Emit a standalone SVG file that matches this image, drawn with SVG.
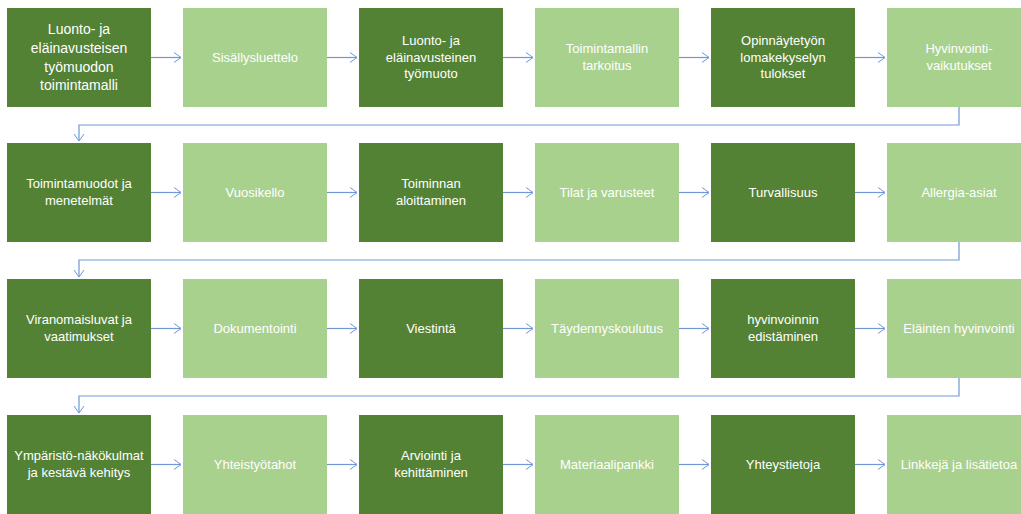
<svg xmlns="http://www.w3.org/2000/svg" width="1021" height="514" viewBox="0 0 1021 514">
<style>
.dk{fill:#548235}
.lt{fill:#A9D18E}
.t{font-family:"Liberation Sans",Arial,sans-serif;font-size:13px;fill:#ffffff;text-anchor:middle}
.t1{font-size:14px}
.c{fill:none;stroke:#7097D6;stroke-width:1.2}
</style>
<defs>
<marker id="ah" markerWidth="10" markerHeight="12" refX="8" refY="6" orient="auto" markerUnits="userSpaceOnUse">
<path d="M1,1 L8,6 L1,11" fill="none" stroke="#7097D6" stroke-width="1"/>
</marker>
</defs>
<rect width="1021" height="514" fill="#ffffff"/>
<g id="connectors">
<path class="c" d="M151,57.5 H181" marker-end="url(#ah)"/>
<path class="c" d="M327,57.5 H357" marker-end="url(#ah)"/>
<path class="c" d="M503,57.5 H533" marker-end="url(#ah)"/>
<path class="c" d="M679,57.5 H709" marker-end="url(#ah)"/>
<path class="c" d="M855,57.5 H885" marker-end="url(#ah)"/>
<path class="c" d="M959,107 V125 H79 V141" marker-end="url(#ah)"/>
<path class="c" d="M151,192.5 H181" marker-end="url(#ah)"/>
<path class="c" d="M327,192.5 H357" marker-end="url(#ah)"/>
<path class="c" d="M503,192.5 H533" marker-end="url(#ah)"/>
<path class="c" d="M679,192.5 H709" marker-end="url(#ah)"/>
<path class="c" d="M855,192.5 H885" marker-end="url(#ah)"/>
<path class="c" d="M959,242 V260 H79 V277" marker-end="url(#ah)"/>
<path class="c" d="M151,328.5 H181" marker-end="url(#ah)"/>
<path class="c" d="M327,328.5 H357" marker-end="url(#ah)"/>
<path class="c" d="M503,328.5 H533" marker-end="url(#ah)"/>
<path class="c" d="M679,328.5 H709" marker-end="url(#ah)"/>
<path class="c" d="M855,328.5 H885" marker-end="url(#ah)"/>
<path class="c" d="M959,378 V396 H79 V413" marker-end="url(#ah)"/>
<path class="c" d="M151,464.5 H181" marker-end="url(#ah)"/>
<path class="c" d="M327,464.5 H357" marker-end="url(#ah)"/>
<path class="c" d="M503,464.5 H533" marker-end="url(#ah)"/>
<path class="c" d="M679,464.5 H709" marker-end="url(#ah)"/>
<path class="c" d="M855,464.5 H885" marker-end="url(#ah)"/>
</g>
<!-- Row 1 -->
<g id="n1"><rect class="dk" x="7" y="8" width="144" height="99"/><text class="t t1" x="79"><tspan x="79" y="34">Luonto- ja</tspan><tspan x="79" y="53">eläinavusteisen</tspan><tspan x="79" y="71.5">työmuodon</tspan><tspan x="79" y="90">toimintamalli</tspan></text></g>
<g id="n2"><rect class="lt" x="183" y="8" width="144" height="99"/><text class="t" x="255" y="62">Sisällysluettelo</text></g>
<g id="n3"><rect class="dk" x="359" y="8" width="144" height="99"/><text class="t"><tspan x="431" y="45">Luonto- ja</tspan><tspan x="431" y="61.5">eläinavusteinen</tspan><tspan x="431" y="78">työmuoto</tspan></text></g>
<g id="n4"><rect class="lt" x="535" y="8" width="144" height="99"/><text class="t"><tspan x="607" y="53">Toimintamallin</tspan><tspan x="607" y="69.5">tarkoitus</tspan></text></g>
<g id="n5"><rect class="dk" x="711" y="8" width="144" height="99"/><text class="t"><tspan x="783" y="45">Opinnäytetyön</tspan><tspan x="783" y="61.5">lomakekyselyn</tspan><tspan x="783" y="78">tulokset</tspan></text></g>
<g id="n6"><rect class="lt" x="887" y="8" width="144" height="99"/><text class="t"><tspan x="959" y="53">Hyvinvointi-</tspan><tspan x="959" y="69.5">vaikutukset</tspan></text></g>
<!-- Row 2 -->
<g id="n7"><rect class="dk" x="7" y="143" width="144" height="99"/><text class="t"><tspan x="79" y="188">Toimintamuodot ja</tspan><tspan x="79" y="204.5">menetelmät</tspan></text></g>
<g id="n8"><rect class="lt" x="183" y="143" width="144" height="99"/><text class="t" x="255" y="197">Vuosikello</text></g>
<g id="n9"><rect class="dk" x="359" y="143" width="144" height="99"/><text class="t"><tspan x="431" y="188">Toiminnan</tspan><tspan x="431" y="204.5">aloittaminen</tspan></text></g>
<g id="n10"><rect class="lt" x="535" y="143" width="144" height="99"/><text class="t" x="607" y="197">Tilat ja varusteet</text></g>
<g id="n11"><rect class="dk" x="711" y="143" width="144" height="99"/><text class="t" x="783" y="197">Turvallisuus</text></g>
<g id="n12"><rect class="lt" x="887" y="143" width="144" height="99"/><text class="t" x="959" y="197">Allergia-asiat</text></g>
<!-- Row 3 -->
<g id="n13"><rect class="dk" x="7" y="279" width="144" height="99"/><text class="t"><tspan x="79" y="324">Viranomaisluvat ja</tspan><tspan x="79" y="340.5">vaatimukset</tspan></text></g>
<g id="n14"><rect class="lt" x="183" y="279" width="144" height="99"/><text class="t" x="255" y="333">Dokumentointi</text></g>
<g id="n15"><rect class="dk" x="359" y="279" width="144" height="99"/><text class="t" x="431" y="333">Viestintä</text></g>
<g id="n16"><rect class="lt" x="535" y="279" width="144" height="99"/><text class="t" x="607" y="333">Täydennyskoulutus</text></g>
<g id="n17"><rect class="dk" x="711" y="279" width="144" height="99"/><text class="t"><tspan x="783" y="324">hyvinvoinnin</tspan><tspan x="783" y="340.5">edistäminen</tspan></text></g>
<g id="n18"><rect class="lt" x="887" y="279" width="144" height="99"/><text class="t" x="959" y="333">Eläinten hyvinvointi</text></g>
<!-- Row 4 -->
<g id="n19"><rect class="dk" x="7" y="415" width="144" height="99"/><text class="t"><tspan x="79" y="460">Ympäristö-näkökulmat</tspan><tspan x="79" y="476.5">ja kestävä kehitys</tspan></text></g>
<g id="n20"><rect class="lt" x="183" y="415" width="144" height="99"/><text class="t" x="255" y="469">Yhteistyötahot</text></g>
<g id="n21"><rect class="dk" x="359" y="415" width="144" height="99"/><text class="t"><tspan x="431" y="460">Arviointi ja</tspan><tspan x="431" y="476.5">kehittäminen</tspan></text></g>
<g id="n22"><rect class="lt" x="535" y="415" width="144" height="99"/><text class="t" x="607" y="469">Materiaalipankki</text></g>
<g id="n23"><rect class="dk" x="711" y="415" width="144" height="99"/><text class="t" x="783" y="469">Yhteystietoja</text></g>
<g id="n24"><rect class="lt" x="887" y="415" width="144" height="99"/><text class="t" x="959" y="469">Linkkejä ja lisätietoa</text></g>
</svg>
